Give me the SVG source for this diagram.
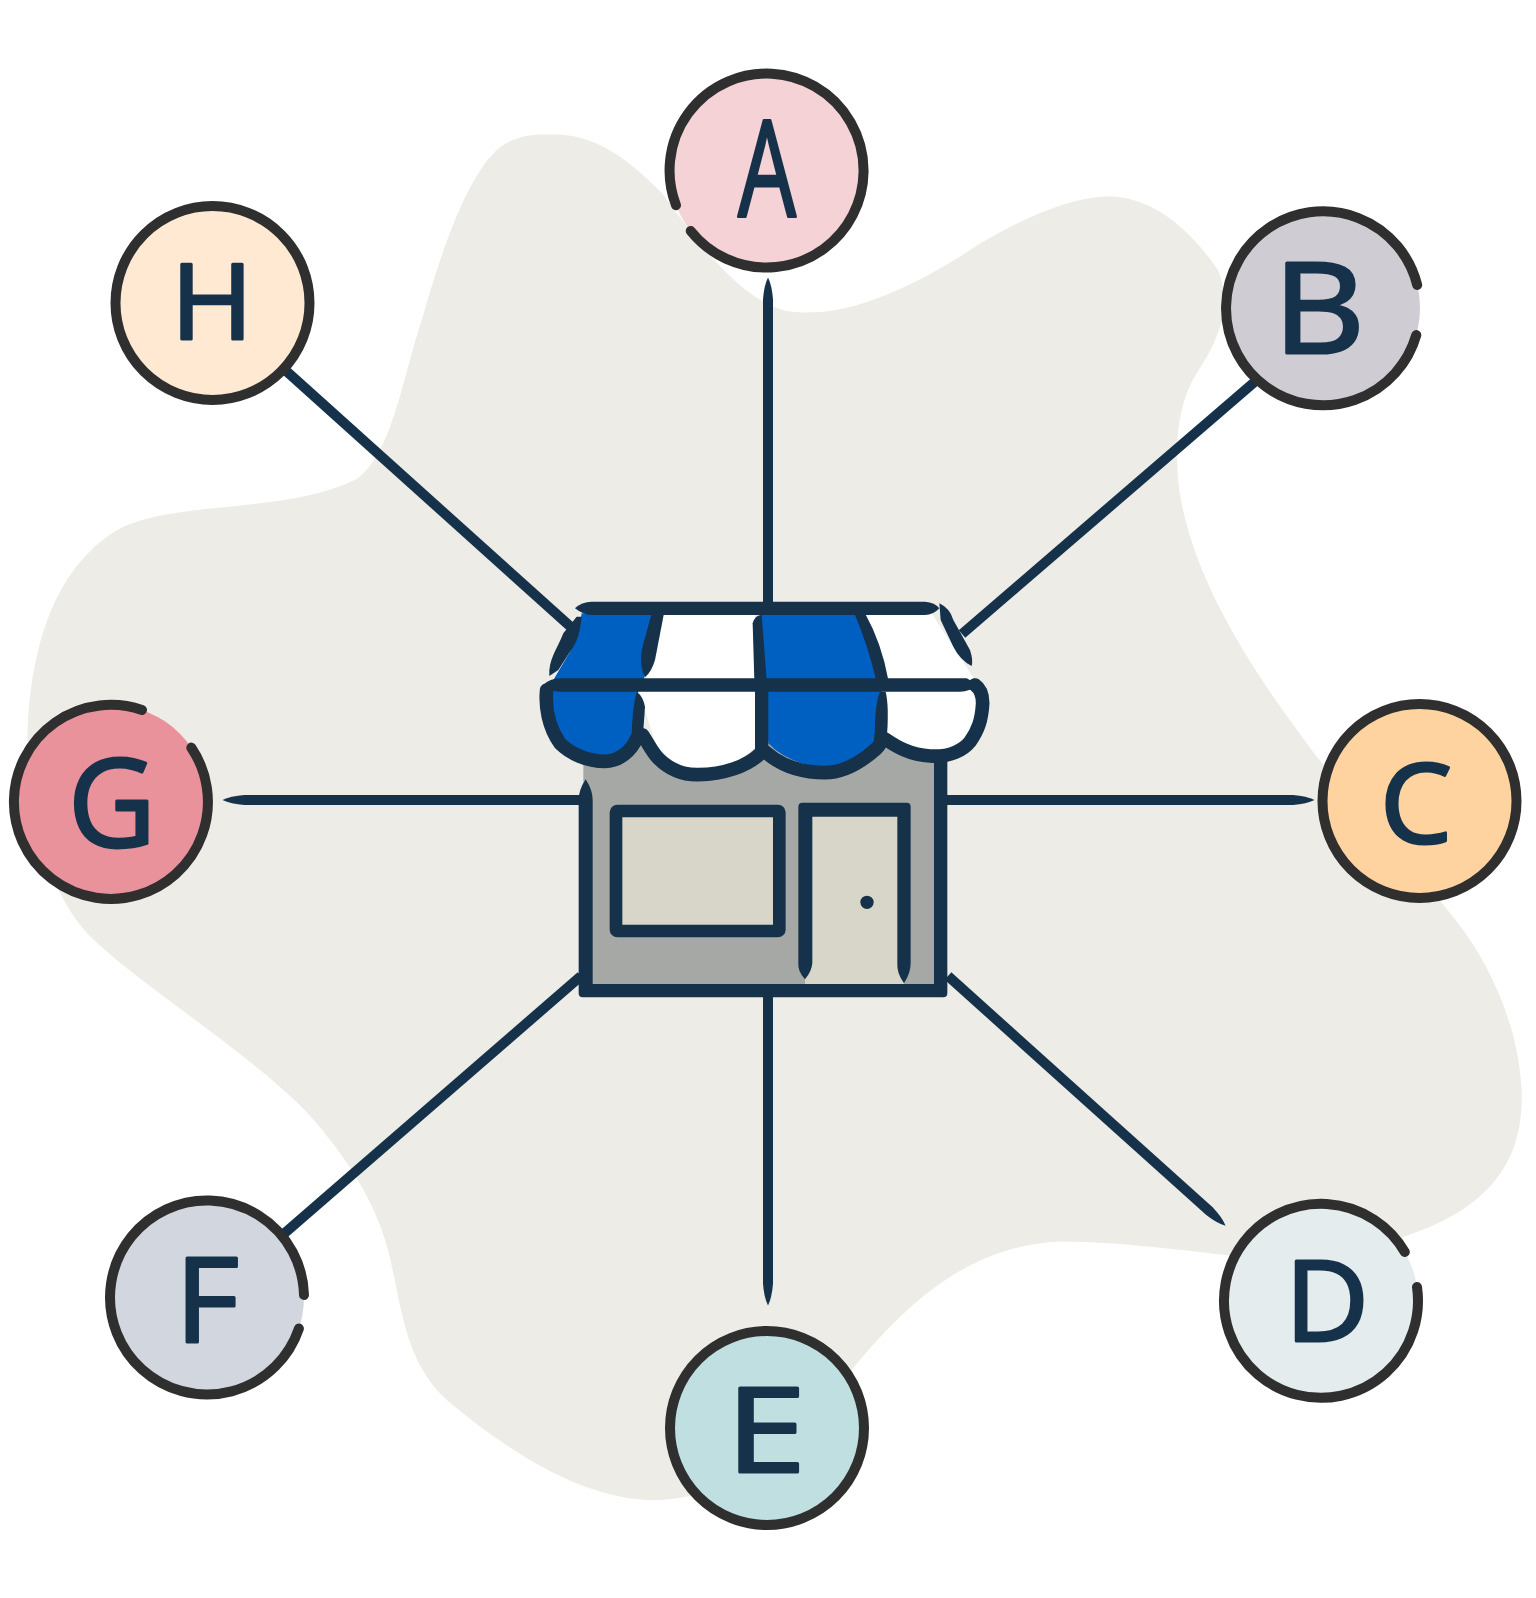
<svg xmlns="http://www.w3.org/2000/svg" width="1536" height="1598" viewBox="0 0 1536 1598">
<style>
.ring{fill:none;stroke:#2f2f2f;stroke-width:10;stroke-linecap:round}
.ltr{font-family:"Open Sans","Liberation Sans",sans-serif;fill:#16324a;stroke:#16324a;stroke-width:3;stroke-linejoin:round;text-anchor:middle}
.con{fill:none;stroke:#16324a;stroke-width:10}
.ol{fill:none;stroke:#16324a;stroke-width:41;stroke-linecap:round;stroke-linejoin:round}
.ink{fill:#16324a}
</style>
<defs>
<marker id="taper" markerUnits="userSpaceOnUse" markerWidth="24" markerHeight="12" refX="0.5" refY="6" orient="auto-start-reverse" viewBox="0 0 24 12"><path d="M0,1 Q14,2 22,6 Q14,10 0,11Z" fill="#16324a"/></marker>
</defs>
<rect width="1536" height="1598" fill="#ffffff"/>
<path id="blob" transform="scale(1.0192)" fill="#edece6" d="M545,132 C590,132 625,165 650,190 C680,230 720,290 770,305 C830,315 900,280 960,240 C1010,210 1060,190 1095,193 C1140,197 1175,235 1195,265 C1210,300 1195,335 1175,365 C1155,395 1152,440 1157,480 C1170,570 1230,660 1290,740 C1340,800 1395,860 1430,905 C1465,950 1490,1010 1493,1070 C1495,1130 1470,1165 1430,1190 C1390,1215 1300,1240 1240,1235 C1180,1230 1110,1218 1040,1218 C960,1222 900,1265 835,1345 C790,1420 720,1470 640,1472 C570,1470 500,1425 440,1375 C400,1340 395,1290 385,1245 C375,1190 345,1140 300,1090 C240,1030 150,975 95,925 C50,885 25,800 27,720 C30,640 50,560 115,520 C170,490 280,505 350,470 C385,445 395,370 415,310 C435,240 460,170 490,145 C510,130 530,132 545,132Z"/>
<g id="connectors">
<line class="con" x1="768" y1="299" x2="768" y2="612" marker-start="url(#taper)"/>
<line class="con" x1="768" y1="990" x2="768" y2="1284" marker-end="url(#taper)"/>
<line class="con" x1="244" y1="800" x2="582" y2="800" marker-start="url(#taper)"/>
<line class="con" x1="945" y1="800" x2="1293" y2="800" marker-end="url(#taper)"/>
<line class="con" x1="284" y1="369" x2="572" y2="628"/>
<line class="con" x1="1258" y1="379" x2="962" y2="634"/>
<line class="con" x1="948" y1="976" x2="1209.6" y2="1211.3" marker-end="url(#taper)"/>
<line class="con" x1="581" y1="976" x2="279" y2="1238"/>
</g>
<g id="store" transform="translate(520,580) scale(.33333)">
<rect x="190" y="490" width="1072" height="735" fill="#a6a8a5"/>
<rect x="855" y="690" width="297" height="522" fill="#d8d6c9"/>
<rect x="288" y="693" width="490" height="360" rx="4" fill="#d8d6c9" stroke="#16324a" stroke-width="38" stroke-linejoin="round"/>
<path class="ink" d="M847,668 H1160 Q1172,668 1172,680 V1150 Q1172,1180 1152,1210 Q1130,1180 1132,1150 V710 H877 V1150 Q875,1175 855,1198 Q833,1175 835,1150 V680 Q835,668 847,668Z"/>
<circle class="ink" cx="1041" cy="967" r="20"/>
<path class="ink" d="M197,598 Q218,630 218,660 V1212 H1242 V540 H1282 V1240 Q1282,1252 1270,1252 H188 Q176,1252 176,1240 V660 Q176,630 197,598Z"/>
<path fill="#0060c2" d="M185,100 H400 L372,300 H100 L150,215Q175,170 185,100Z"/>
<path fill="#ffffff" d="M425,100 H705 L710,300 H370 L400,250Z"/>
<path fill="#0060c2" d="M720,100 H1010 L1075,300 H735Z"/>
<path fill="#ffffff" d="M1030,100 H1235 L1300,200 L1365,300 H1095Z"/>
<path fill="#0060c2" d="M90,330 H355 L340,470 Q300,530 250,530 Q190,530 125,480 Q95,430 90,330Z"/>
<path fill="#ffffff" d="M355,330 H710 V500 Q640,570 530,570 Q450,560 410,500Z"/>
<path fill="#0060c2" d="M730,330 H1085 L1065,490 Q1010,560 915,565 Q800,550 745,490Z"/>
<path fill="#ffffff" d="M1095,330 H1375 L1365,420 Q1330,510 1240,515 Q1150,510 1095,470Z"/>
<path class="ol" d="M80,330 C75,380 85,440 120,490 C150,520 200,544 255,544 C300,544 335,510 350,475"/>
<path class="ol" d="M368,465 C385,490 395,515 415,535 C450,570 490,585 535,584 C610,583 680,560 722,520"/>
<path class="ol" d="M735,515 C780,555 840,578 915,578 C970,578 1020,550 1070,505 C1082,495 1083,480 1083,470"/>
<path class="ol" d="M1097,478 C1130,500 1170,525 1230,528 C1290,532 1330,510 1350,485 C1375,450 1385,420 1388,370 C1388,345 1380,325 1365,315"/>
<path class="ink" d="M165,85 Q185,65 215,65 H1215 Q1245,67 1258,85 Q1240,105 1215,105 H215 Q190,105 165,85Z"/>
<path class="ink" d="M70,315 Q90,295 120,295 H1340 Q1360,305 1370,315 Q1350,335 1320,335 H120 Q90,335 70,315Z"/>
<path class="ink" d="M170,110 L185,110 C180,160 170,190 150,215 L115,270 L88,288 C85,240 110,210 130,160Z"/>
<path class="ink" d="M395,100 L432,100 L405,240 Q395,275 375,292 Q358,260 365,210Z"/>
<path class="ink" d="M698,130 Q705,105 725,105 L740,300 L703,300Z"/>
<path class="ink" d="M1003,100 L1035,100 Q1085,190 1105,300 L1068,300 Q1045,200 1003,100Z"/>
<path class="ink" d="M1258,70 Q1290,85 1300,120 L1350,210 Q1360,240 1355,258 Q1320,240 1300,200 L1262,120Z"/>
<path class="ink" d="M350,335 Q335,390 335,480 L368,480 L375,380 Q370,350 350,335Z"/>
<path class="ink" d="M705,330 H745 V530 H705Z"/>
<path class="ink" d="M1080,335 Q1062,380 1065,480 L1100,480 Q1108,380 1097,335Z"/>
</g>
<g id="node-a"><circle cx="766.5" cy="170.5" r="97" fill="#f5d2d6"/><path class="ring" d="M690.7,231 A97,97 0 1 0 676,205.3"/><text class="ltr" x="767" y="216" font-size="134" textLength="58" lengthAdjust="spacingAndGlyphs">A</text></g>
<g id="node-b"><circle cx="1323" cy="308" r="97" fill="#d0ccd4"/><path class="ring" d="M1416.3,335 A97,97 0 1 1 1417.2,285"/><text class="ltr" x="1319" y="353" font-size="126" textLength="92" lengthAdjust="spacingAndGlyphs">B</text></g>
<g id="node-c"><circle cx="1419.5" cy="801" r="97" fill="#ffd3a0"/><circle class="ring" cx="1419.5" cy="801" r="97"/><text class="ltr" x="1416" y="843" font-size="110" textLength="72" lengthAdjust="spacingAndGlyphs">C</text></g>
<g id="node-d"><circle cx="1321" cy="1301" r="97" fill="#e4ecee"/><path class="ring" d="M1417,1287 A97,97 0 1 1 1404.8,1252"/><text class="ltr" x="1327" y="1341" font-size="112" textLength="84" lengthAdjust="spacingAndGlyphs">D</text></g>
<g id="node-e"><circle cx="767" cy="1428" r="97" fill="#c0dfe1"/><circle class="ring" cx="767" cy="1428" r="97"/><text class="ltr" x="766" y="1472" font-size="118" textLength="80" lengthAdjust="spacingAndGlyphs">E</text></g>
<g id="node-f"><circle cx="207" cy="1297.5" r="97" fill="#d2d6de"/><path class="ring" d="M298.9,1328.6 A97,97 0 1 1 304,1295"/><text class="ltr" x="207" y="1342" font-size="118" textLength="64" lengthAdjust="spacingAndGlyphs">F</text></g>
<g id="node-g"><circle cx="111" cy="802" r="97" fill="#ea929c"/><path class="ring" d="M191.3,747.6 A97,97 0 1 1 142,710"/><text class="ltr" x="112" y="847" font-size="122" textLength="88" lengthAdjust="spacingAndGlyphs">G</text></g>
<g id="node-h"><circle cx="212.5" cy="303" r="97" fill="#ffe9d2"/><circle class="ring" cx="212.5" cy="303" r="97"/><text class="ltr" x="212" y="339" font-size="104" textLength="82" lengthAdjust="spacingAndGlyphs">H</text></g>
</svg>
